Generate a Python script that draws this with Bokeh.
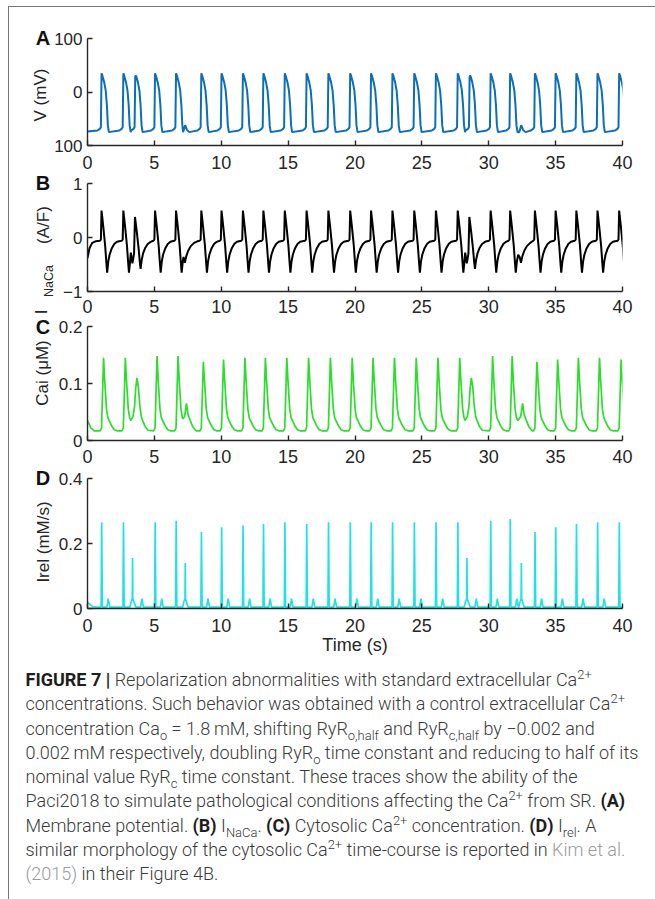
import math
from bokeh.plotting import figure
from bokeh.layouts import column, row
from bokeh.models import Div, FixedTicker, Range1d, NumeralTickFormatter
from bokeh.core.properties import value
from bokeh.embed import file_html
from bokeh.resources import INLINE

# ---------------- data ----------------
time_ticks = [0, 5, 10, 15, 20, 25, 30, 35, 40]

# action-potential upstroke times (s), shared by all panels
ap_onset_s = [1.00, 2.63, 3.52, 5.00, 6.57, 8.46, 9.97, 11.57, 13.10, 14.70,
              16.33, 17.96, 19.59, 21.15, 22.75, 24.38, 26.00, 27.63, 28.52, 30.09,
              31.55, 33.40, 34.95, 36.50, 38.08, 39.70]
abnormal_ap_index = [2, 18]          # APs triggered by spontaneous release
ead_onset_s = [7.22, 32.35]          # small after-depolarisations

# Panel A : membrane potential (mV)
v_start_t = [0.0]
v_start = [-74]
v_peak_mV = [35, 35, 30, 35, 35, 35, 35, 35, 35, 35, 35, 35, 35, 35, 35, 35, 35, 35, 30, 35,
             35, 35, 35, 35, 35, 35]
v_ap_dt = [-0.25, -0.08, 0.00, 0.05, 0.12, 0.25, 0.36, 0.45, 0.52, 0.60]
v_ap_mV = [-72, -69, -66, None, 30, 18, 3, -25, -62, -75]
v_ead_dt = [-0.07, 0.08, 0.22, 0.40]
v_ead_mV = [-75, -62, -71, -75]

# Panel B : I_NaCa (A/F)
ncx_start_t = [0.0, 0.15, 0.35, 0.60]
ncx_start = [-0.38, -0.20, -0.10, -0.07]
ncx_peak = [0.50, 0.50, 0.38, 0.50, 0.50, 0.50, 0.50, 0.50, 0.50, 0.50, 0.50, 0.50, 0.50,
            0.50, 0.50, 0.50, 0.50, 0.50, 0.38, 0.50, 0.50, 0.50, 0.50, 0.50, 0.50, 0.50]
ncx_ap_dt = [-0.08, 0.00, 0.05, 0.18, 0.32, 0.42, 0.47, 0.55, 0.65, 0.80, 1.00, 1.20]
ncx_ap = [-0.06, -0.04, None, 0.20, -0.15, -0.50, -0.65, -0.45, -0.32, -0.21, -0.12, -0.08]
ncx_abn_dt = [-0.28, -0.16, -0.04, 0.03, 0.16, 0.30, 0.40, 0.45, 0.53, 0.63, 0.78, 0.98, 1.20]
ncx_abn = [-0.28, -0.48, -0.30, None, 0.12, -0.20, -0.48, -0.58, -0.42, -0.30, -0.20, -0.12, -0.08]
ncx_ead_dt = [-0.04, 0.06, 0.16, 0.30, 0.50, 0.75, 1.00]
ncx_ead = [-0.36, -0.47, -0.35, -0.25, -0.16, -0.10, -0.07]

# Panel C : cytosolic Ca (uM)
cai_start_t = [0.0, 0.25, 0.50]
cai_start = [0.035, 0.022, 0.017]
cai_peak = [0.145, 0.145, 0.110, 0.148, 0.148, 0.138, 0.142, 0.145, 0.145, 0.145, 0.145,
            0.145, 0.145, 0.145, 0.145, 0.145, 0.145, 0.145, 0.110, 0.148, 0.148, 0.138,
            0.142, 0.145, 0.145, 0.142]
cai_ap_dt = [-0.05, 0.05, 0.20, 0.30, 0.42, 0.52, 0.62, 0.80, 1.00, 1.20]
cai_ap = [0.017, 0.022, None, 0.100, 0.055, 0.040, 0.035, 0.026, 0.019, 0.017]
cai_abn_dt = [-0.22, -0.12, 0.00, 0.08, 0.18, 0.28, 0.40, 0.50, 0.62, 0.80, 1.00]
cai_abn = [0.038, 0.042, 0.060, 0.090, None, 0.095, 0.060, 0.042, 0.034, 0.024, 0.018]
cai_ead_dt = [-0.08, 0.04, 0.18, 0.30, 0.45, 0.65, 0.90]
cai_ead = [0.038, 0.042, 0.065, 0.045, 0.036, 0.024, 0.017]

# Panel D : I_rel (mM/s)
rel_start_t = [0.0, 0.20, 0.45]
rel_start = [0.020, 0.012, 0.004]
rel_peak = [0.265, 0.265, 0.155, 0.265, 0.270, 0.235, 0.250, 0.255, 0.260, 0.265, 0.260,
            0.265, 0.265, 0.265, 0.265, 0.265, 0.265, 0.265, 0.155, 0.270, 0.275, 0.235,
            0.250, 0.260, 0.265, 0.265]
rel_ap_dt = [-0.06, 0.02, 0.06, 0.11, 0.45, 0.55, 0.66]
rel_ap = [0.004, 0.006, None, 0.004, 0.004, 0.030, 0.004]
rel_abn_dt = [-0.36, -0.26, -0.17, -0.15, -0.13, -0.02, 0.10, 0.45, 0.55, 0.66]
rel_abn = [0.004, 0.020, 0.030, None, 0.030, 0.018, 0.004, 0.004, 0.030, 0.004]
rel_ead_peak = [0.14, 0.14]
rel_ead_dt = [-0.10, -0.02, 0.07, 0.09, 0.11, 0.20, 0.30]
rel_ead = [0.004, 0.020, 0.030, None, 0.030, 0.018, 0.004]


# ---------------- assemble traces from the read templates ----------------
def fill(vals, peak):
    return [peak if v is None else v for v in vals]


def build(start_t, start_v, events):
    events = sorted(events, key=lambda e: e[0])
    xs, ys = list(start_t), list(start_v)
    for i, (t0, dts, vals) in enumerate(events):
        limit = events[i + 1][0] + events[i + 1][1][0] if i + 1 < len(events) else 1e9
        for d, v in zip(dts, vals):
            t = t0 + d
            if xs[-1] < t < limit:
                xs.append(t)
                ys.append(v)
    return xs, ys


def panel_events(ap_dt, ap_vals, peaks, abn_dt=None, abn_vals=None,
                 ead_dt=None, ead_vals=None, ead_peaks=None):
    ev = []
    for k, t0 in enumerate(ap_onset_s):
        if abn_dt is not None and k in abnormal_ap_index:
            ev.append((t0, abn_dt, fill(abn_vals, peaks[k])))
        else:
            ev.append((t0, ap_dt, fill(ap_vals, peaks[k])))
    if ead_dt is not None:
        for j, t0 in enumerate(ead_onset_s):
            pk = ead_peaks[j] if ead_peaks else None
            ev.append((t0, ead_dt, fill(ead_vals, pk)))
    return ev


vA = build(v_start_t, v_start,
           panel_events(v_ap_dt, v_ap_mV, v_peak_mV, ead_dt=v_ead_dt, ead_vals=v_ead_mV))
vB = build(ncx_start_t, ncx_start,
           panel_events(ncx_ap_dt, ncx_ap, ncx_peak, ncx_abn_dt, ncx_abn, ncx_ead_dt, ncx_ead))
vC = build(cai_start_t, cai_start,
           panel_events(cai_ap_dt, cai_ap, cai_peak, cai_abn_dt, cai_abn, cai_ead_dt, cai_ead))
vD = build(rel_start_t, rel_start,
           panel_events(rel_ap_dt, rel_ap, rel_peak, rel_abn_dt, rel_abn, rel_ead_dt, rel_ead,
                        rel_ead_peak))

# ---------------- styling ----------------
FONT = "Liberation Sans"
INK = "#262626"
MAIN_W = 615


def make_panel(height, top, bottom, yr, yticks, x_standoff, shift, fmt=None, overrides=None):
    p = figure(width=MAIN_W, height=height, x_range=Range1d(0, 40), y_range=Range1d(*yr),
               output_backend="svg", toolbar_location=None,
               min_border_left=48, min_border_right=MAIN_W - 48 - 535,
               min_border_top=top, min_border_bottom=bottom,
               margin=(shift, 0, 0, 0))
    p.xgrid.visible = False
    p.ygrid.visible = False
    p.outline_line_color = None
    p.background_fill_alpha = 0
    p.border_fill_alpha = 0
    for ax in (p.xaxis[0], p.yaxis[0]):
        ax.axis_line_color = INK
        ax.axis_line_width = 1.4
        ax.major_tick_in = 5
        ax.major_tick_out = 0
        ax.major_tick_line_color = INK
        ax.major_tick_line_width = 1.4
        ax.minor_tick_line_color = None
        ax.major_label_text_font = FONT
        ax.major_label_text_color = INK
    p.xaxis.major_label_text_font_size = "18px"
    p.yaxis.major_label_text_font_size = "17px"
    p.xaxis.ticker = FixedTicker(ticks=time_ticks)
    p.yaxis.ticker = FixedTicker(ticks=yticks)
    p.xaxis.major_label_standoff = x_standoff
    p.yaxis.major_label_standoff = 5
    if fmt:
        p.yaxis.formatter = NumeralTickFormatter(format=fmt)
    if overrides:
        p.yaxis.major_label_overrides = overrides
    return p


pA = make_panel(178, 31, 40, (-100, 100), [-100, 0, 100], 10, 0,
                overrides={-100: "100", 0: "0", 100: "100"})
pA.line(vA[0], vA[1], line_color="#0a6fb8", line_width=2)

pB = make_panel(168, 20, 40, (-1, 1), [-1, 0, 1], 8, -22)
pB.line(vB[0], vB[1], line_color="#000000", line_width=2)

pC = make_panel(174, 20, 40, (0, 0.2), [0, 0.1, 0.2], 9, -25, fmt="0.[0]")
pC.line(vC[0], vC[1], line_color="#2ade2a", line_width=1.7)

pD = make_panel(205, 20, 55, (0, 0.4), [0, 0.2, 0.4], 10, -22, fmt="0.[0]")
pD.line(vD[0], vD[1], line_color="#1ee3e3", line_width=1.7)
pD.xaxis.axis_label = "Time (s)"
pD.xaxis.axis_label_text_font = FONT
pD.xaxis.axis_label_text_font_size = "18px"
pD.xaxis.axis_label_text_font_style = "normal"
pD.xaxis.axis_label_text_color = INK
pD.xaxis.axis_label_standoff = 0

# left strip holding panel letters and y-axis titles (page-pixel coordinates)
lab = figure(width=60, height=656, x_range=Range1d(9.5, 69.5), y_range=Range1d(663.5, 7.5),
             output_backend="svg", toolbar_location=None, x_axis_type=None, y_axis_type=None,
             min_border=0, min_border_left=0, min_border_right=0, min_border_top=0,
             min_border_bottom=0)
lab.xgrid.visible = False
lab.ygrid.visible = False
lab.outline_line_color = None
lab.background_fill_alpha = 0
lab.border_fill_alpha = 0

lab.text(x=[43, 43, 43, 43], y=[38, 183, 327, 478], text=["A", "B", "C", "D"],
         text_font=value(FONT), text_font_style="bold", text_font_size="20px",
         text_color="#111111", text_align="center", text_baseline="middle")
lab.text(x=[40, 43, 41, 42, 43], y=[95, 225, 312, 373, 542],
         text=["V (mV)", "(A/F)", "I", "Cai (\u03bcM)", "Irel (mM/s)"],
         angle=math.pi / 2, text_font=value(FONT), text_font_size="17px",
         text_color=INK, text_align="center", text_baseline="middle")
lab.text(x=[48.5], y=[281], text=["NaCa"], angle=math.pi / 2, text_font=value(FONT),
         text_font_size="12.5px", text_color=INK, text_align="center", text_baseline="middle")

plots = column(pA, pB, pC, pD, spacing=0, margin=(0, 0, 0, -30))
top = row(lab, plots, spacing=0)

caption_html = """
<div style="font-family:'Roboto',sans-serif;font-weight:300;font-size:18px;line-height:24.25px;
color:#3a3a3a;padding:0 0 0 11.5px;white-space:nowrap;">
<style>sup,sub{font-size:0.72em;line-height:0;} b{font-weight:700;color:#1e1e1e;}</style>
<b>FIGURE 7 |</b> Repolarization abnormalities with standard extracellular Ca<sup>2+</sup><br>
concentrations. Such behavior was obtained with a control extracellular Ca<sup>2+</sup><br>
concentration Ca<sub>o</sub> = 1.8&thinsp;mM, shifting RyR<sub>o,half</sub> and RyR<sub>c,half</sub> by &minus;0.002 and<br>
0.002&thinsp;mM respectively, doubling RyR<sub>o</sub> time constant and reducing to half of its<br>
nominal value RyR<sub>c</sub> time constant. These traces show the ability of the<br>
Paci2018 to simulate pathological conditions affecting the Ca<sup>2+</sup> from SR. <b>(A)</b><br>
Membrane potential. <b>(B)</b> I<sub>NaCa</sub>. <b>(C)</b> Cytosolic Ca<sup>2+</sup> concentration. <b>(D)</b> I<sub>rel</sub>. A<br>
similar morphology of the cytosolic Ca<sup>2+</sup> time-course is reported in <span style="color:#9a9a9a">Kim et al.</span><br>
<span style="color:#9a9a9a">(2015)</span> in their Figure 4B.
</div>
"""
caption = Div(text=caption_html, width=645, height=235)

layout = column(top, caption, spacing=0, margin=(6, 0, 0, 8),
                styles={"border-top": "1.5px solid #777", "border-left": "1.5px solid #777"})

open("out.html", "w").write(file_html(layout, INLINE))
